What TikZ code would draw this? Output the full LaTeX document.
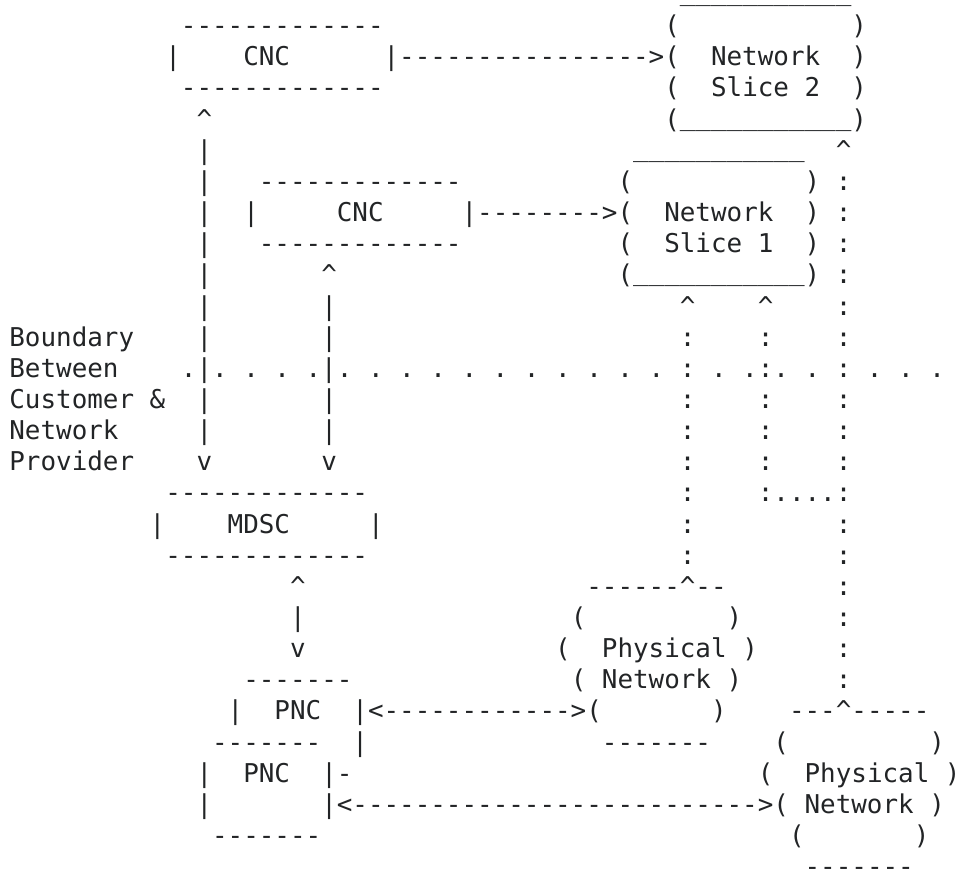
\documentclass[tikz,border=0pt]{standalone}
\usepackage{fontspec}
\setmonofont{DejaVu Sans Mono}
\definecolor{ink}{HTML}{222426}
\newlength\cw
\setlength\cw{15.5931pt}
\newcommand\gap[1]{\hspace*{#1\cw}}
\newcommand\crt{\textasciicircum}
\newcommand\uus{\raisebox{3pt}{\_\_\_\_\_\_\_\_\_\_\_}}
\frenchspacing
\begin{document}
\begin{tikzpicture}[x=1pt,y=1pt,
  asc/.style={anchor=base west, inner sep=0pt, outer sep=0pt, text=ink,
    font=\ttfamily\fontsize{25.9pt}{31pt}\selectfont}]
\useasboundingbox (0,0) rectangle (958,-870);
\def\X{9.4}
\node[asc] (l0)  at (\X,-3.5)   {\gap{43}\uus};
\node[asc] (l1)  at (\X,-34.65) {\gap{11}-------------\gap{18}(\gap{11})};
\node[asc] (l2)  at (\X,-65.8)  {\gap{10}|\gap{4}CNC\gap{6}|---------------->(\gap{2}Network\gap{2})};
\node[asc] (l3)  at (\X,-96.95) {\gap{11}-------------\gap{18}(\gap{2}Slice~2\gap{2})};
\node[asc] (l4)  at (\X,-128.1) {\gap{12}\crt\gap{29}(\uus)};
\node[asc] (l5)  at (\X,-159.25){\gap{12}|\gap{27}\uus\gap{2}\crt};
\node[asc] (l6)  at (\X,-190.4) {\gap{12}|\gap{3}-------------\gap{10}(\gap{11})~:};
\node[asc] (l7)  at (\X,-221.55){\gap{12}|\gap{2}|\gap{5}CNC\gap{5}|-------->(\gap{2}Network\gap{2})~:};
\node[asc] (l8)  at (\X,-252.7) {\gap{12}|\gap{3}-------------\gap{10}(\gap{2}Slice~1\gap{2})~:};
\node[asc] (l9)  at (\X,-283.85){\gap{12}|\gap{7}\crt\gap{18}(\uus)~:};
\node[asc] (l10) at (\X,-315)   {\gap{12}|\gap{7}|\gap{22}\crt\gap{4}\crt\gap{4}:};
\node[asc] (l11) at (\X,-346.15){Boundary\gap{4}|\gap{7}|\gap{22}:\gap{4}:\gap{4}:};
\node[asc] (l12) at (\X,-377.3) {Between\gap{4}.|.~.~.~.|.~.~.~.~.~.~.~.~.~.~.~:~.~.:.~.~:~.~.~.};
\node[asc] (l13) at (\X,-408.45){Customer~\&\gap{2}|\gap{7}|\gap{22}:\gap{4}:\gap{4}:};
\node[asc] (l14) at (\X,-439.6) {Network\gap{5}|\gap{7}|\gap{22}:\gap{4}:\gap{4}:};
\node[asc] (l15) at (\X,-470.75){Provider\gap{4}v\gap{7}v\gap{22}:\gap{4}:\gap{4}:};
\node[asc] (l16) at (\X,-501.9) {\gap{10}-------------\gap{20}:\gap{4}:....:};
\node[asc] (l17) at (\X,-533.05){\gap{9}|\gap{4}MDSC\gap{5}|\gap{19}:\gap{9}:};
\node[asc] (l18) at (\X,-564.2) {\gap{10}-------------\gap{20}:\gap{9}:};
\node[asc] (l19) at (\X,-595.35){\gap{18}\crt\gap{18}------\crt--\gap{7}:};
\node[asc] (l20) at (\X,-626.5) {\gap{18}|\gap{17}(\gap{9})\gap{6}:};
\node[asc] (l21) at (\X,-657.65){\gap{18}v\gap{16}(\gap{2}Physical~)\gap{5}:};
\node[asc] (l22) at (\X,-688.8) {\gap{15}-------\gap{14}(~Network~)\gap{6}:};
\node[asc] (l23) at (\X,-719.95){\gap{14}|\gap{2}PNC\gap{2}|<------------>(\gap{7})\gap{4}---\crt-----};
\node[asc] (l24) at (\X,-751.1) {\gap{13}-------\gap{2}|\gap{15}-------\gap{4}(\gap{9})};
\node[asc] (l25) at (\X,-782.25){\gap{12}|\gap{2}PNC\gap{2}|-\gap{26}(\gap{2}Physical~)};
\node[asc] (l26) at (\X,-813.4) {\gap{12}|\gap{7}|<-------------------------->(~Network~)};
\node[asc] (l27) at (\X,-844.55){\gap{13}-------\gap{30}(\gap{7})};
\node[asc] (l28) at (\X,-875.7) {\gap{51}-------};
\end{tikzpicture}
\end{document}
